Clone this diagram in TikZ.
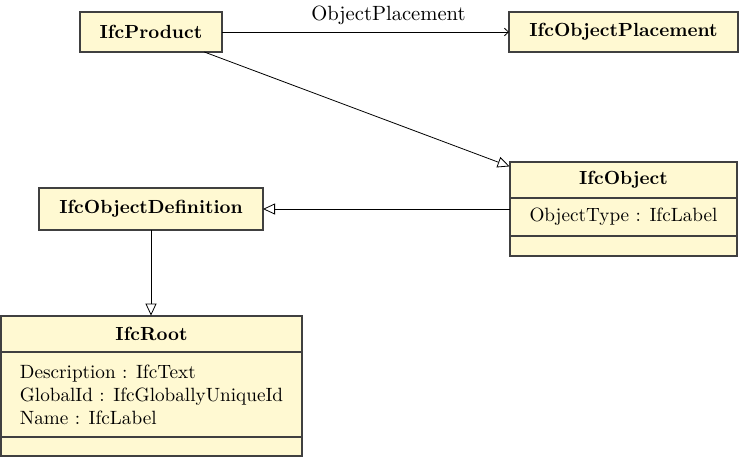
\documentclass[tikz,border=0pt]{standalone}
\usetikzlibrary{arrows.meta,positioning,fit}
\definecolor{classfill}{RGB}{255,249,210}
\tikzstyle{classname} = [draw=black!75,fill=classfill,line width=0.55pt,outer sep=0pt,inner sep=0pt,minimum height=18pt,font=\fontsize{9.5}{11}\selectfont\bfseries]
\tikzstyle{compart} = [draw=black!75,fill=classfill,line width=0.55pt,outer sep=0pt,inner xsep=4pt,inner ysep=0pt,align=left,font=\fontsize{9.6}{11.5}\selectfont]
\tikzstyle{inherit} = [-{Triangle[open,length=6pt,width=5.5pt]}]
\tikzstyle{assoc} = [-{Straight Barb[length=2pt,width=3.8pt]}]
\tikzset{>=latex}

\begin{document}
\begin{tikzpicture}[x=0.5pt,y=-0.5pt]
    \useasboundingbox (0,0) rectangle (739,457);

    \node [classname,minimum width=71pt,minimum height=20pt] (product) at (151,32) {IfcProduct};
    \node [classname,minimum width=114.5pt,minimum height=20pt] (placement) at (623.5,32) {IfcObjectPlacement};
    \node [classname,minimum width=112pt,minimum height=21pt] (objdef) at (151,209) {IfcObjectDefinition};

    % IfcObject
    \node [classname,minimum width=113.5pt] (objname) at (623.5,180) {IfcObject};
    \node [compart,below=0pt of objname,minimum width=113.5pt,minimum height=19pt] (objattr) {ObjectType : IfcLabel};
    \node [compart,below=0pt of objattr,minimum width=113.5pt,minimum height=10pt] (objops) {};
    \node [fit=(objname)(objops),inner sep=0pt] (object) {};

    % IfcRoot
    \node [classname,minimum width=150.5pt] (rootname) at (151.5,334) {IfcRoot};
    \node [compart,below=0pt of rootname,minimum width=150.5pt,minimum height=42.5pt] (rootattr) {Description : IfcText\\GlobalId : IfcGloballyUniqueId\\Name : IfcLabel};
    \node [compart,below=0pt of rootattr,minimum width=150.5pt,minimum height=9.5pt] (rootops) {};
    \node [fit=(rootname)(rootops),inner sep=0pt] (root) {};

    \draw [assoc] (product) -- node [above,pos=0.58,font=\fontsize{10.3}{12}\selectfont] (lblplacement) {ObjectPlacement} (placement);
    \draw [inherit] (product) -- (object);
    \draw [inherit] (object) -- (objdef);
    \draw [inherit] (objdef) -- (objdef |- root.north);
\end{tikzpicture}
\end{document}
